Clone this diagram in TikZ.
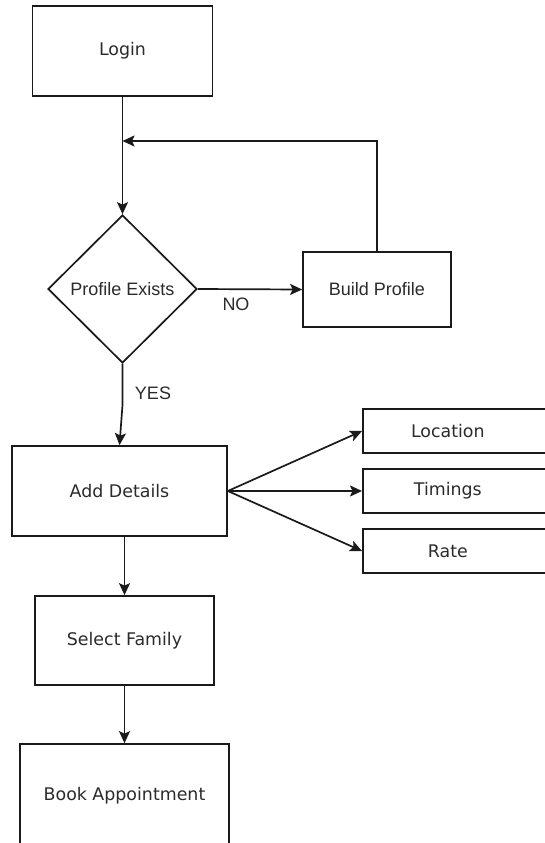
\documentclass[tikz,border=0pt]{standalone}
\usepackage{fontspec}
\setmainfont{DejaVu Sans}
\newfontfamily\arialfont{Liberation Sans}
\usetikzlibrary{shapes.geometric,arrows.meta}
\definecolor{inkline}{HTML}{1A1A1A}
\definecolor{inktext}{HTML}{2B2B2B}
\newcommand{\boxfont}{\fontsize{17.4}{20}\selectfont}
\newcommand{\arialsize}{\arialfont\fontsize{18}{21}\selectfont}
\tikzset{
  box/.style={draw=inkline, line width=1.7pt, rectangle, inner sep=0pt,
    text=inktext, font=\boxfont},
  decision/.style={draw=inkline, line width=1.7pt, diamond, inner sep=0pt,
    text=inktext, font=\arialsize},
  arialbox/.style={box, font=\arialsize},
  flow/.style={draw=inkline, line width=1.7pt,
    -{Stealth[length=12pt,width=11pt,inset=2.5pt]}},
  tag/.style={text=inktext, font=\arialsize, inner sep=0pt},
  sidebox/.style={box, minimum width=200pt, minimum height=44pt, anchor=west},
  sidetext/.style={xshift=-15pt, text=inktext, font=\boxfont},
}
\begin{document}
\begin{tikzpicture}[x=1pt,y=-1pt]
\useasboundingbox (0,0) rectangle (545,843);
\clip (0,0) rectangle (545,843);
\fill[white] (0,0) rectangle (545,843);

% main column
\node[box, minimum width=180pt, minimum height=90pt] (login) at (122.5,51) {Login};
\node[decision, minimum width=149pt, minimum height=148pt] (pe) at (122.5,289) {Profile Exists};
\node[arialbox, minimum width=148pt, minimum height=75pt] (bp) at (377,289.5) {Build Profile};
\node[box, minimum width=215pt, minimum height=90pt] (ad) at (119.5,491) {Add Details};
\node[box, minimum width=179pt, minimum height=89pt] (sf) at (124.5,640.5) {Select Family};
\node[box, minimum width=209pt, minimum height=104pt] (ba) at (124.5,796) {Book Appointment};

% detail boxes on the right
\node[sidebox, label={[sidetext]center:Location}] (loc) at (362,431) {};
\node[sidebox, label={[sidetext]center:Timings}] (tim) at (362,491) {};
\node[sidebox, label={[sidetext]center:Rate}] (rate) at (362,551) {};

% helper points
\coordinate (merge) at (122.5,141);
\coordinate (kink) at (122.5,405);

% connectors
\draw[flow] (login.south) -- (pe.north);
\draw[flow] (bp.north) |- (merge);
\draw[flow] (pe.east) -- (bp.west);
\node[tag] (no) at (236,304) {NO};
\draw[flow] (pe.south) -- (kink) -- (ad.north);
\node[tag] (yes) at (153,393) {YES};
\draw[flow] (ad.east) -- (loc.west);
\draw[flow] (ad.east) -- (tim.west);
\draw[flow] (ad.east) -- (rate.west);
\draw[flow] (ad.south -| sf.north) -- (sf.north);
\draw[flow] (sf.south) -- (ba.north);
\end{tikzpicture}
\end{document}
